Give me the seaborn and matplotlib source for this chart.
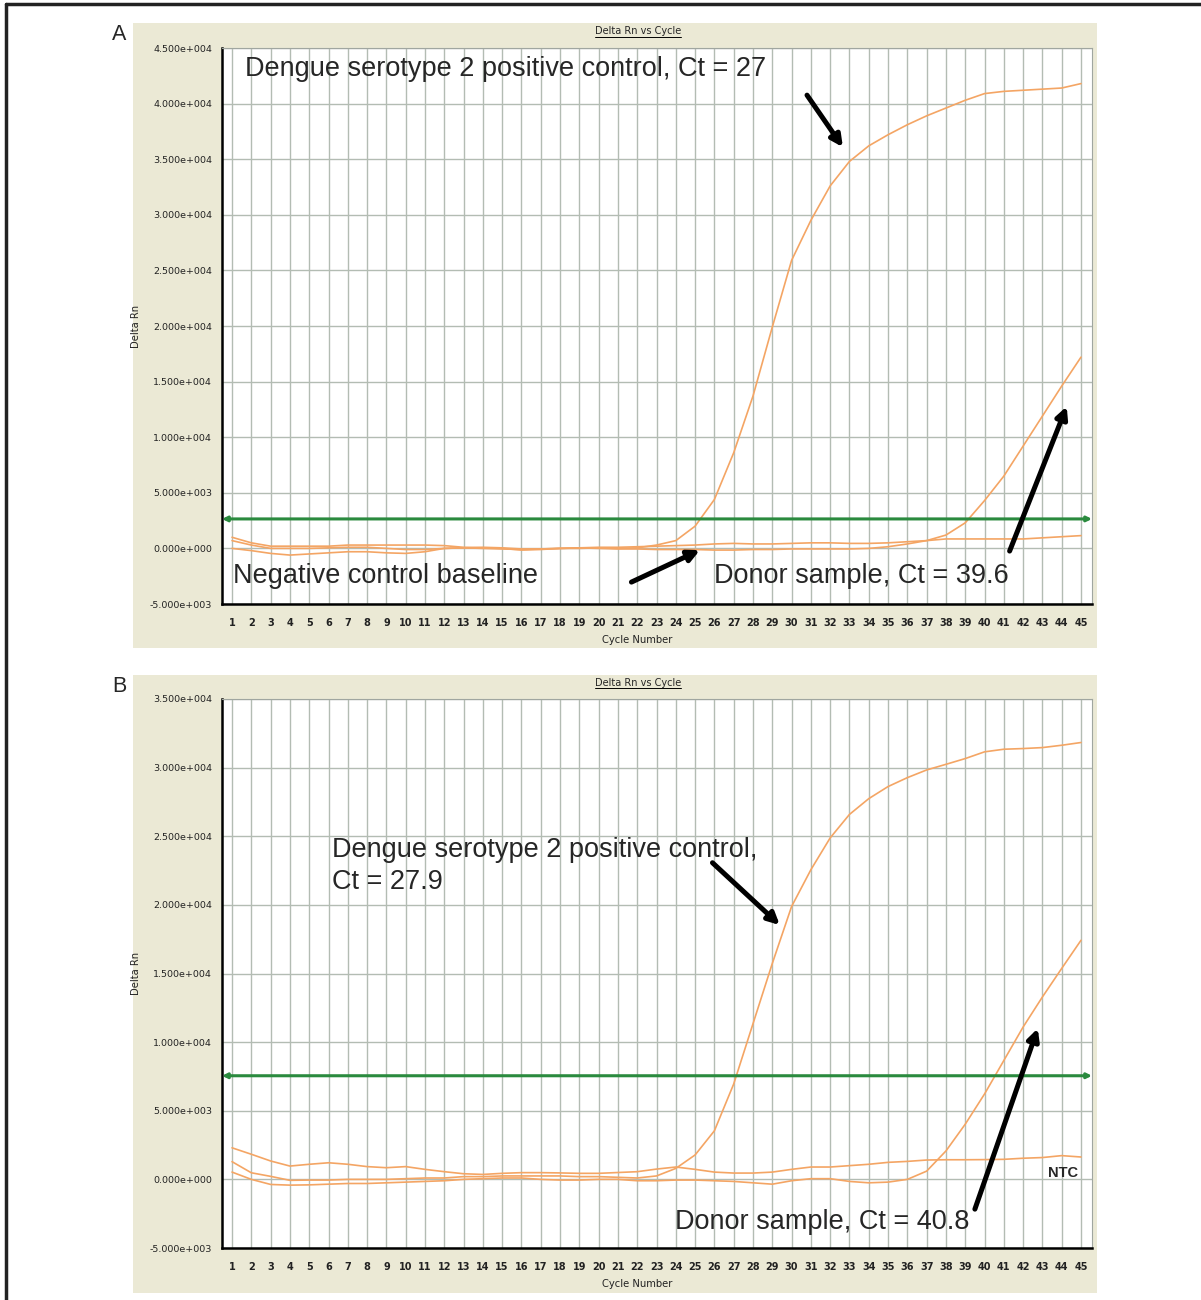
import numpy as np
import pandas as pd
import matplotlib
matplotlib.use("Agg")
import matplotlib.pyplot as plt
from matplotlib.patches import Rectangle
from matplotlib.lines import Line2D
import seaborn as sns

# ---------------- data ----------------
cycles = list(range(1, 46))

# Panel A (Delta Rn)
a_positive = [1000, 500, 200, 200, 200, 200, 300, 300, 300, 300, 300, 250, 100, 50, 0, -150,
              -100, 0, 0, 50, 0, 50, 300, 700, 2000, 4400, 8600, 13700, 19900, 25900, 29500,
              32600, 34800, 36200, 37200, 38100, 38900, 39600, 40300, 40900, 41100, 41200,
              41300, 41400, 41800]
a_donor = [700, 300, 0, 0, 0, 50, 100, 100, 0, -100, -100, 0, 50, 0, -50, -100, -50, 0, 50,
           0, -50, -50, -100, -100, -100, -150, -150, -100, -100, -50, -50, -50, -50, 0, 150,
           400, 700, 1200, 2300, 4300, 6500, 9200, 11900, 14600, 17200]
a_negative = [0, -200, -450, -600, -500, -400, -300, -300, -400, -450, -300, 0, 50, 100, 50,
              -50, -50, 0, 50, 100, 100, 150, 200, 250, 300, 400, 450, 400, 400, 450, 500, 500,
              450, 450, 500, 600, 700, 850, 850, 850, 850, 850, 950, 1050, 1150]
a_threshold = 2650

# Panel B (Delta Rn)
b_positive = [1290, 480, 220, -70, -50, -50, 0, 0, 0, 50, 100, 100, 200, 200, 250, 250, 250,
              250, 200, 200, 150, 100, 250, 800, 1780, 3540, 6950, 11340, 15730, 19880, 22560,
              24880, 26590, 27740, 28620, 29270, 29830, 30240, 30660, 31150, 31340, 31390,
              31460, 31630, 31830]
b_donor = [530, 0, -370, -420, -400, -350, -300, -300, -250, -200, -150, -100, 0, 50, 100, 100,
           0, -50, -50, 0, 0, -100, -100, -50, -50, -100, -150, -250, -350, -100, 50, 50, -150,
           -250, -200, 0, 600, 2070, 4020, 6220, 8660, 11100, 13290, 15370, 17420]
b_ntc = [2300, 1830, 1340, 970, 1100, 1210, 1100, 930, 850, 930, 730, 560, 410, 360, 440, 490,
         490, 470, 440, 440, 500, 560, 750, 900, 730, 530, 460, 460, 530, 730, 900, 900, 1000,
         1100, 1240, 1310, 1410, 1430, 1430, 1440, 1460, 1540, 1590, 1730, 1630]
b_threshold = 7550

yticks_A = list(range(-5000, 45001, 5000))
yticks_B = list(range(-5000, 35001, 5000))

# ---------------- style ----------------
sns.set_style("white")
plt.rcParams['font.family'] = ['Liberation Sans', 'DejaVu Sans']

W, H = 1201, 1300
fig = plt.figure(figsize=(W / 100, H / 100), dpi=100)

def fx(px):
    return px / W

def fy(py):
    return 1 - py / H

BEIGE = '#ebe9d5'
ORANGE = '#f4a564'
GREEN = '#2a8a3e'
GRID = '#b3bcb3'

def sci(v):
    if v == 0:
        return "0.000e+000"
    e = int(np.floor(np.log10(abs(v))))
    m = v / 10 ** e
    return f"{m:.3f}e{'+' if e >= 0 else '-'}{abs(e):03d}"

def make_panel(top_bg, bot_bg, ax_top, ax_bot, label, curves, thr, yticks, ylim):
    fig.patches.append(Rectangle((fx(133), fy(bot_bg)), fx(1097) - fx(133), fy(top_bg) - fy(bot_bg),
                                 transform=fig.transFigure, facecolor=BEIGE, edgecolor='none', zorder=0))
    fig.text(fx(112), fy(top_bg + 11), label, fontsize=15.5, ha='left', va='center')
    t = fig.text(fx(638), fy(top_bg + 8), "Delta Rn vs Cycle", fontsize=7, ha='center', va='center',
                 family=['DejaVu Sans'])
    ax = fig.add_axes([fx(222), fy(ax_bot), fx(1092) - fx(222), fy(ax_top) - fy(ax_bot)])
    ax.set_facecolor('white')
    ax.set_zorder(1)
    df = pd.DataFrame({
        'Cycle': cycles * len(curves),
        'Delta Rn': sum([list(c) for c in curves], []),
        'Sample': sum([[i] * len(cycles) for i in range(len(curves))], []),
    })
    sns.lineplot(data=df, x='Cycle', y='Delta Rn', units='Sample', estimator=None,
                 color=ORANGE, lw=1.2, ax=ax, zorder=3)
    ax.annotate('', xy=(0.0, thr), xytext=(1.0, thr), xycoords=('axes fraction', 'data'),
                textcoords=('axes fraction', 'data'),
                arrowprops=dict(arrowstyle='<|-|>', color=GREEN, lw=2.2, mutation_scale=7,
                                shrinkA=0, shrinkB=0), zorder=4)
    ax.set_xlim(0.48, 45.57)
    ax.set_ylim(*ylim)
    ax.set_xticks(cycles)
    ax.set_xticklabels([str(c) for c in cycles], fontsize=7, family=['DejaVu Sans'],
                       color='#222222', fontweight='semibold')
    ax.set_yticks(yticks)
    ax.set_yticklabels([sci(v) for v in yticks], fontsize=6.8, family=['DejaVu Sans'],
                       color='#222222')
    ax.tick_params(axis='both', length=0)
    ax.tick_params(axis='x', pad=10)
    ax.tick_params(axis='y', pad=7)
    ax.grid(True, color=GRID, lw=1.0)
    ax.set_axisbelow(True)
    for s in ['left', 'bottom']:
        ax.spines[s].set_color('black')
        ax.spines[s].set_linewidth(1.8)
    for s in ['top', 'right']:
        ax.spines[s].set_color('#a0a6a0')
        ax.spines[s].set_linewidth(0.8)
    ax.set_xlabel('Cycle Number', fontsize=7.2, family=['DejaVu Sans'], color='#222222')
    ax.set_ylabel('Delta Rn', fontsize=7.2, family=['DejaVu Sans'], color='#222222')
    h = ax_bot - ax_top
    ax.xaxis.set_label_coords((637 - 222) / 870, -31 / h)
    ax.yaxis.set_label_coords((141 - 222) / 870, 0.5)
    return ax, t

axA, tA = make_panel(23, 648, 48, 604, 'A', [a_positive, a_donor, a_negative], a_threshold,
                     yticks_A, (-5000, 45000))
axB, tB = make_panel(675, 1293, 699, 1248, 'B', [b_positive, b_donor, b_ntc], b_threshold,
                     yticks_B, (-5000, 35000))

AFS = 19.5
arrow = dict(arrowstyle='-|>', color='black', lw=3.6, mutation_scale=17, shrinkA=0, shrinkB=0)

# Panel A annotations
axA.text(1.67, 43110, 'Dengue serotype 2 positive control, Ct = 27', fontsize=AFS, va='center', zorder=5)
axA.annotate('', xy=(32.66, 36080), xytext=(30.8, 40760), arrowprops=arrow, zorder=5)
axA.text(1.05, -2490, 'Negative control baseline', fontsize=AFS, va='center', zorder=5)
axA.annotate('', xy=(25.25, -150), xytext=(21.7, -3030), arrowprops=arrow, zorder=5)
axA.text(26.0, -2490, 'Donor sample, Ct = 39.6', fontsize=AFS, va='center', zorder=5)
axA.annotate('', xy=(44.26, 12770), xytext=(41.3, -240), arrowprops=arrow, zorder=5)

# Panel B annotations
axB.text(6.18, 24020, 'Dengue serotype 2 positive control,', fontsize=AFS, va='center', zorder=5)
axB.text(6.18, 21680, 'Ct = 27.9', fontsize=AFS, va='center', zorder=5)
axB.annotate('', xy=(29.39, 18530), xytext=(25.9, 23070), arrowprops=arrow, zorder=5)
axB.text(23.95, -3130, 'Donor sample, Ct = 40.8', fontsize=AFS, va='center', zorder=5)
axB.annotate('', xy=(42.76, 11000), xytext=(39.5, -2170), arrowprops=arrow, zorder=5)
axB.text(43.28, 460, 'NTC', fontsize=10.5, va='center', zorder=5, fontweight='semibold')

# frame lines
fig.add_artist(Line2D([fx(6), fx(1201)], [fy(4), fy(4)], color='#222222', lw=2.5, transform=fig.transFigure))
fig.add_artist(Line2D([fx(6), fx(6)], [fy(4), fy(1300)], color='#222222', lw=2.5, transform=fig.transFigure))

# underline titles
fig.canvas.draw()
r = fig.canvas.get_renderer()
for t in (tA, tB):
    bb = t.get_window_extent(renderer=r)
    y = bb.y0 - 0.5
    fig.add_artist(Line2D([bb.x0 / W, bb.x1 / W], [y / H, y / H], color='black', lw=0.7,
                          transform=fig.transFigure))

fig.savefig('out.png', dpi=100)
